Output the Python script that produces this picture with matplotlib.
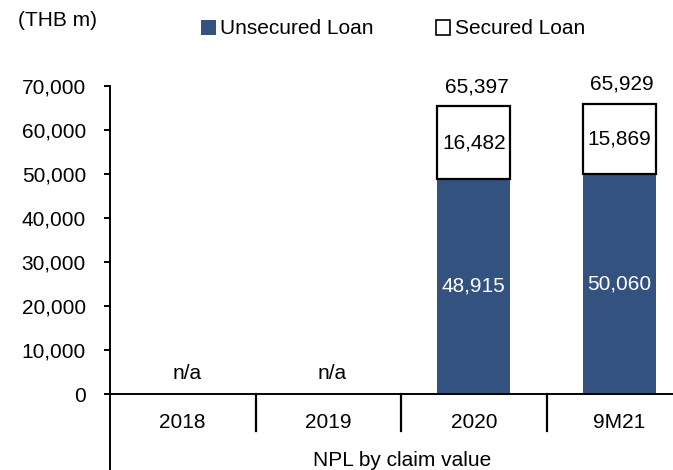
import matplotlib
matplotlib.use("Agg")
import matplotlib.pyplot as plt
from matplotlib.lines import Line2D
from matplotlib.patches import Patch
import numpy as np

plt.rcParams['font.family'] = ['Liberation Sans', 'DejaVu Sans']

categories = ["2018", "2019", "2020", "9M21"]
unsecured = [0, 0, 48915, 50060]
secured = [0, 0, 16482, 15869]
totals = [None, None, 65397, 65929]
na_flags = [True, True, False, False]

blue = "#34527F"
FS = 15

fig = plt.figure(figsize=(6.73, 4.70), dpi=100)
W, H = 673, 470
left_px, right_px, y0_px, ytop_px = 110, 692, 394, 86
ax = fig.add_axes([left_px / W, (H - y0_px) / H, (right_px - left_px) / W,
                   (y0_px - ytop_px) / H])

x = np.arange(len(categories))
bw = 0.5
for i in range(len(categories)):
    if na_flags[i]:
        ax.text(x[i] + 0.03, 4600, "n/a", ha="center", va="center", fontsize=FS)
        continue
    ax.bar(x[i], unsecured[i], width=bw, color=blue, edgecolor="none", zorder=2)
    ax.bar(x[i], secured[i], bottom=unsecured[i], width=bw, color="white",
           edgecolor="black", linewidth=1.6, zorder=3)
    ax.text(x[i], unsecured[i] / 2, f"{unsecured[i]:,}", ha="center", va="center",
            color="white", fontsize=FS, zorder=4)
    ax.text(x[i], unsecured[i] + secured[i] / 2, f"{secured[i]:,}", ha="center",
            va="center", color="black", fontsize=FS, zorder=4)
    ax.annotate(f"{totals[i]:,}", (x[i], totals[i]), xytext=(2, 14),
                textcoords="offset points", ha="center", va="center",
                color="black", fontsize=FS, zorder=4, annotation_clip=False)

ax.set_xlim(-0.5, len(categories) - 0.5)
ax.set_ylim(0, 70000)
ax.set_yticks(np.arange(0, 70001, 10000))
ax.set_yticklabels([f"{v:,}" for v in range(0, 70001, 10000)], fontsize=FS)
ax.set_xticks([])
for s in ["top", "right"]:
    ax.spines[s].set_visible(False)
ax.spines["left"].set_linewidth(1.4)
ax.spines["bottom"].set_linewidth(1.4)
ax.tick_params(axis="y", direction="out", length=4.3, width=1.4, pad=13)

# category labels and separators below axis
xt = ax.get_xaxis_transform()
for i, c in enumerate(categories):
    ax.text(x[i], -(422 - y0_px) / (y0_px - ytop_px), c, transform=xt, ha="center",
            va="center", fontsize=FS, clip_on=False)
for b in np.arange(0.5, len(categories) - 0.5, 1.0):
    ax.add_line(Line2D([b, b], [0, -(431 - y0_px) / (y0_px - ytop_px)], transform=xt,
                       color="black", lw=1.6, clip_on=False))
# left spine extended to bottom
ax.add_line(Line2D([-0.5, -0.5], [0, -(475 - y0_px) / (y0_px - ytop_px)], transform=xt,
                   color="black", lw=1.4, clip_on=False))
fig.text(402 / W, (H - 460) / H, "NPL by claim value",
         ha="center", va="center", fontsize=FS)

fig.text(18 / W, (H - 21) / H, "(THB m)", ha="left", va="center", fontsize=FS)

handles = [Patch(facecolor=blue, edgecolor="none", label="Unsecured Loan"),
           Patch(facecolor="white", edgecolor="black", linewidth=1.2, label="Secured Loan")]
fig.legend(handles=handles, loc="center", bbox_to_anchor=(393 / W, (H - 29) / H),
           ncol=2, frameon=False, fontsize=FS, handlelength=0.7, handleheight=0.7,
           handletextpad=0.2, columnspacing=3.0, borderpad=0)

fig.savefig("out.png", dpi=100)
